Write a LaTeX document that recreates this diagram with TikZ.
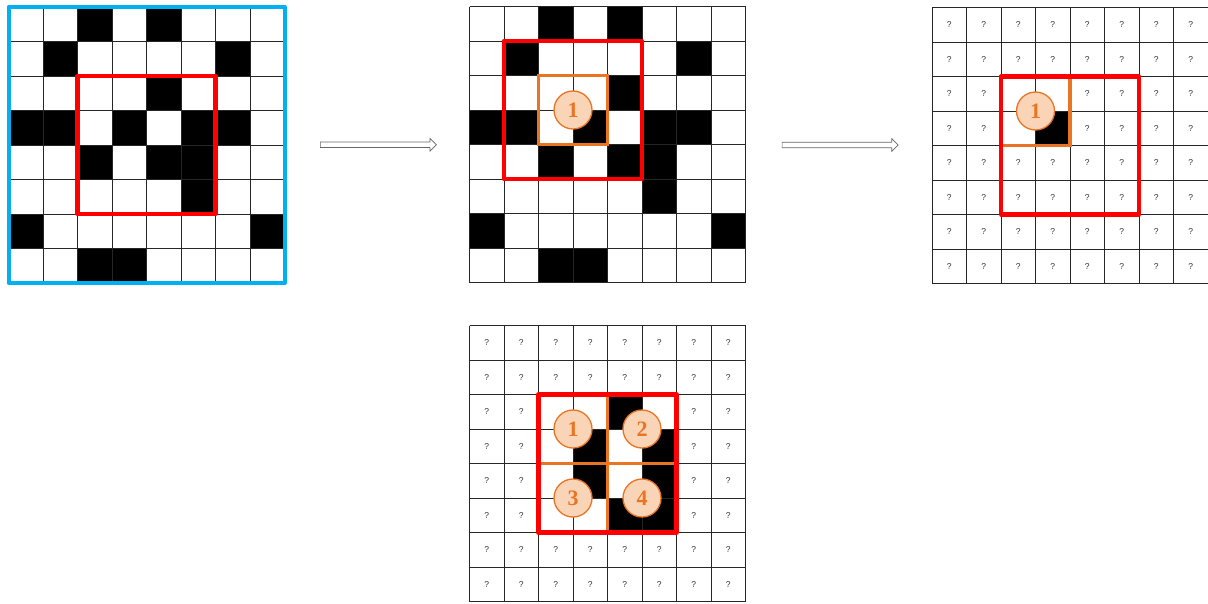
\documentclass[tikz,border=0pt]{standalone}
\usepackage{fontspec}
\setmainfont{Liberation Serif}
\newfontfamily\qfont{Liberation Sans}
\usetikzlibrary{positioning,shapes.arrows}
\definecolor{frameblue}{HTML}{00B0F0}
\definecolor{boxorange}{HTML}{E97424}
\definecolor{circfill}{HTML}{FAD4B6}

\tikzset{
  gridframe/.style={minimum size=276pt,inner sep=0pt,outer sep=0pt},
  gridline/.style={line width=0.8pt,black!85},
  redbox/.style={draw=red,line width=4.2pt,line join=round},
  orangebox/.style={draw=boxorange,line width=3.4pt},
  numcirc/.style={circle,draw=boxorange,line width=1.3pt,fill=circfill,text=boxorange,
    minimum size=38pt,inner sep=0pt,font=\bfseries\fontsize{22}{22}\selectfont},
  qmark/.style={inner sep=0pt,font=\qfont\fontsize{8.5}{9}\selectfont,text=black!80},
  bigarrow/.style={single arrow,draw=black!60,fill=white,line width=0.7pt,minimum height=116pt,
    inner xsep=0pt,inner ysep=2.4pt,single arrow head extend=3.6pt}
}

% 8x8 cell lines
\newcommand\cells{%
  \foreach \i in {0,...,8} \draw[gridline] (\i,0) -- (\i,8) (0,\i) -- (8,\i);}

% question marks everywhere except rows #1..#2, cols #3..#4
\newcommand\qmarks[4]{%
  \foreach \r in {0,...,7} \foreach \c in {0,...,7} {
    \pgfmathtruncatemacro\inside{(\r>#1-1)&&(\r<#2+1)&&(\c>#3-1)&&(\c<#4+1)}
    \ifnum\inside=0 \node[qmark] (q\r\c) at (\c+0.5,\r+0.5) {?};\fi
  }}

\begin{document}
\begin{tikzpicture}[x=1pt,y=-1pt]
  \useasboundingbox (0,0) rectangle (1208,603);
  \node[gridframe] (g1) at (146.5,145) {};
  \node[gridframe] (g2) at (607.5,144.5) {};
  \node[gridframe] (g3) at (1070,145.5) {};
  \node[gridframe] (g4) at (607.5,463.5) {};

  % input image
  \begin{scope}[shift={(g1.north west)},x=34.5pt,y=-34.5pt]
    \foreach \r/\c in {0/2,0/4,1/1,1/6,2/4,3/0,3/1,3/3,3/5,3/6,4/2,4/4,4/5,5/5,6/0,6/7,7/2,7/3}
      \fill (\c,\r) rectangle ++(1,1);
    \cells
    \draw[redbox] (2,2) rectangle (6,6);
  \end{scope}
  \draw[draw=frameblue,line width=4pt,line join=round] (g1.north west) rectangle (g1.south east);

  % first window
  \begin{scope}[shift={(g2.north west)},x=34.5pt,y=-34.5pt]
    \foreach \r/\c in {0/2,0/4,1/1,1/6,2/4,3/0,3/1,3/3,3/5,3/6,4/2,4/4,4/5,5/5,6/0,6/7,7/2,7/3}
      \fill (\c,\r) rectangle ++(1,1);
    \cells
    \draw[redbox] (1,1) rectangle (5,5);
    \draw[orangebox] (2,2) rectangle (4,4);
    \node[numcirc] (b1) at (3,3) {1};
  \end{scope}

  % result after one step
  \begin{scope}[shift={(g3.north west)},x=34.5pt,y=-34.5pt]
    \fill (3,3) rectangle ++(1,1);
    \qmarks{2}{3}{2}{3}
    \cells
    \draw[orangebox] (2,2) rectangle (4,4);
    \draw[redbox] (2,2) rectangle (6,6);
    \node[numcirc] (c1) at (3,3) {1};
  \end{scope}

  % result after four steps
  \begin{scope}[shift={(g4.north west)},x=34.5pt,y=-34.5pt]
    \foreach \r/\c in {2/4,3/3,3/5,4/3,4/5,5/4,5/5}
      \fill (\c,\r) rectangle ++(1,1);
    \qmarks{2}{5}{2}{5}
    \cells
    \draw[orangebox] (4,2) -- (4,6) (2,4) -- (6,4);
    \draw[redbox] (2,2) rectangle (6,6);
    \node[numcirc] (d1) at (3,3) {1};
    \node[numcirc] (d2) at (5,3) {2};
    \node[numcirc] (d3) at (3,5) {3};
    \node[numcirc] (d4) at (5,5) {4};
  \end{scope}

  \path (g1.east) -- node[bigarrow] (a1) {} (g2.west);
  \path (g2.east) -- node[bigarrow] (a2) {} (g3.west);
\end{tikzpicture}
\end{document}
